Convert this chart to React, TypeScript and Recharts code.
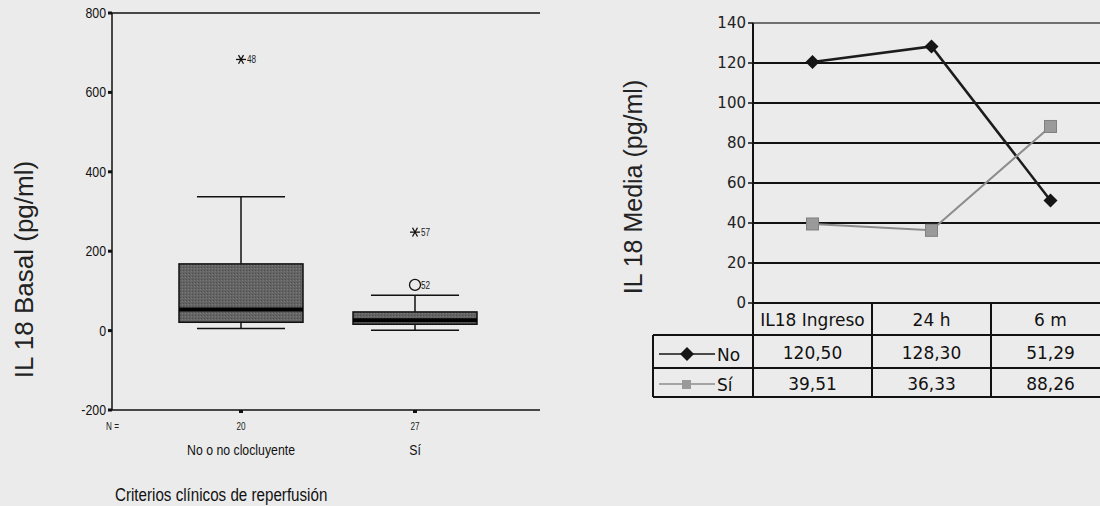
import React from 'react';
import {
  ComposedChart,
  Bar,
  Scatter,
  LineChart,
  Line,
  XAxis,
  YAxis,
  CartesianGrid,
  ReferenceLine,
  Label,
} from 'recharts';

// left panel: IL 18 basal by reperfusion criteria (boxplot)
const groups = ['No o no clocluyente', 'Sí'];
const groupN = [20, 27];
const boxMin = [5, 1];
const boxQ1 = [21, 16];
const boxMedian = [53, 26];
const boxQ3 = [168, 47];
const boxMax = [337, 89];

const outlierGroup = ['No o no clocluyente', 'Sí', 'Sí'];
const outlierValue = [683, 248, 115];
const outlierCase = ['48', '57', '52'];
const outlierKind = ['extreme', 'extreme', 'outlier'];

const basalTicks = [-200, 0, 200, 400, 600, 800];

// right panel: IL 18 mean over time
const timePoints = ['IL18 Ingreso', '24 h', '6 m'];
const seriesNo = [120.5, 128.3, 51.29];
const seriesSi = [39.51, 36.33, 88.26];
const mediaTicks = [0, 20, 40, 60, 80, 100, 120, 140];
const mediaGrid = [20, 40, 60, 80, 100, 120];

const SANS = "'Liberation Sans', Arial, sans-serif";
const VERDANA = "'DejaVu Sans', Verdana, sans-serif";
const INK = '#111';

const boxData = groups.map((name, i) => ({
  name,
  n: groupN[i],
  min: boxMin[i],
  q1: boxQ1[i],
  median: boxMedian[i],
  q3: boxQ3[i],
  max: boxMax[i],
  range: [boxMin[i], boxMax[i]],
}));

const outlierData = outlierGroup.map((name, i) => ({
  name,
  value: outlierValue[i],
  id: outlierCase[i],
  kind: outlierKind[i],
}));

const timeData = timePoints.map((time, i) => ({ time, no: seriesNo[i], si: seriesSi[i] }));

const fmt = (v: number) => v.toFixed(2).replace('.', ',');

// SPSS output uses a narrow sans; squeeze Liberation Sans horizontally
const Narrow = ({ x, y, size, anchor = 'start', fill = INK, squeeze = 0.82, children }: any) => (
  <text
    transform={`translate(${x} ${y}) scale(${squeeze} 1)`}
    textAnchor={anchor}
    fontSize={size}
    fontFamily={SANS}
    fill={fill}
  >
    {children}
  </text>
);

const BoxShape = (props: any) => {
  const { x, y, width, height, payload } = props;
  const top = Math.min(y, y + height);
  const h = Math.abs(height);
  const span = payload.max - payload.min;
  const py = (v: number) => top + (h * (payload.max - v)) / span;
  const cx = x + width / 2;
  const cap = (width * 0.71) / 2;
  const boxTop = py(payload.q3);
  const boxH = py(payload.q1) - boxTop;
  return (
    <g>
      <line x1={cx} x2={cx} y1={py(payload.max)} y2={boxTop} stroke={INK} strokeWidth={1.5} />
      <line x1={cx} x2={cx} y1={py(payload.q1)} y2={py(payload.min)} stroke={INK} strokeWidth={1.5} />
      <line x1={cx - cap} x2={cx + cap} y1={py(payload.max)} y2={py(payload.max)} stroke={INK} strokeWidth={1.5} />
      <line x1={cx - cap} x2={cx + cap} y1={py(payload.min)} y2={py(payload.min)} stroke={INK} strokeWidth={1.5} />
      <rect x={x} y={boxTop} width={width} height={boxH} fill="#646464" />
      <rect x={x} y={boxTop} width={width} height={boxH} fill="url(#stipple)" stroke={INK} strokeWidth={1.5} />
      <line x1={x} x2={x + width} y1={py(payload.median)} y2={py(payload.median)} stroke="#000" strokeWidth={4} />
    </g>
  );
};

const OutlierShape = (props: any) => {
  const { cx, cy, payload } = props;
  const r = 5;
  const d = r * 0.87;
  return (
    <g>
      {payload.kind === 'extreme' ? (
        <g stroke={INK} strokeWidth={1.3}>
          <line x1={cx - r} x2={cx + r} y1={cy} y2={cy} />
          <line x1={cx - r / 2} x2={cx + r / 2} y1={cy - d} y2={cy + d} />
          <line x1={cx + r / 2} x2={cx - r / 2} y1={cy - d} y2={cy + d} />
        </g>
      ) : (
        <circle cx={cx} cy={cy} r={5.5} fill="none" stroke={INK} strokeWidth={1.3} />
      )}
      <Narrow x={cx + 6} y={cy + 4} size={10} fill="#222">
        {payload.id}
      </Narrow>
    </g>
  );
};

const BasalYTick = (props: any) => {
  const { x, y, payload } = props;
  return (
    <Narrow x={x} y={y + 5} size={14} anchor="end" squeeze={0.88}>
      {payload.value}
    </Narrow>
  );
};

const GroupTick = (props: any) => {
  const { x, y, index, payload } = props;
  return (
    <g>
      <Narrow x={x} y={y + 17} size={10} anchor="middle" fill="#222">
        {groupN[index]}
      </Narrow>
      <Narrow x={x} y={y + 42} size={15} anchor="middle">
        {payload.value}
      </Narrow>
    </g>
  );
};

const BasalXTitle = (props: any) => {
  const { viewBox } = props;
  return (
    <g>
      <Narrow x={viewBox.x - 6} y={viewBox.y + 20} size={10} fill="#222">
        N =
      </Narrow>
      <Narrow x={viewBox.x + 3} y={viewBox.y + 91} size={18.5} squeeze={0.82}>
        Criterios clínicos de reperfusión
      </Narrow>
    </g>
  );
};

const BasalYTitle = (props: any) => {
  const { viewBox } = props;
  const tx = viewBox.x - 28;
  const ty = viewBox.y + viewBox.height / 2 + 58;
  return (
    <text x={tx} y={ty} transform={`rotate(-90 ${tx} ${ty})`} textAnchor="middle" dominantBaseline="central" fontSize={26} fontFamily={SANS} fill="#222">
      IL 18 Basal (pg/ml)
    </text>
  );
};

const MediaYTitle = (props: any) => {
  const { viewBox } = props;
  const tx = viewBox.x - 60;
  const ty = viewBox.y + viewBox.height / 2 + 24;
  return (
    <text x={tx} y={ty} transform={`rotate(-90 ${tx} ${ty})`} textAnchor="middle" dominantBaseline="central" fontSize={25} fontFamily={SANS} fill="#222">
      IL 18 Media (pg/ml)
    </text>
  );
};

const DiamondDot = (props: any) => {
  const { cx, cy } = props;
  return <polygon points={`${cx},${cy - 7} ${cx + 7},${cy} ${cx},${cy + 7} ${cx - 7},${cy}`} fill="#151515" />;
};

const SquareDot = (props: any) => {
  const { cx, cy } = props;
  return <rect x={cx - 6} y={cy - 6} width={12} height={12} fill="#9a9a9a" stroke="#808080" strokeWidth={1} />;
};

// x axis ticks of the right panel draw the data table under the plot
const TableTick = (props: any) => {
  const { x, y, index, payload, width, visibleTicksCount } = props;
  const band = width / visibleTicksCount;
  const l = x - band / 2;
  const r = x + band / 2;
  const rows = [y + 32, y + 65, y + 94];
  const txt = { fontSize: 17, fontFamily: VERDANA, fill: INK, textAnchor: 'middle' as const };
  const legendL = l - 100;
  return (
    <g>
      <line x1={r} x2={r} y1={y} y2={rows[2]} stroke={INK} strokeWidth={2} />
      {index === 0 && <line x1={l} x2={l} y1={y} y2={rows[2]} stroke={INK} strokeWidth={2} />}
      {rows.map((ry) => (
        <line key={ry} x1={l} x2={r} y1={ry} y2={ry} stroke={INK} strokeWidth={2} />
      ))}
      <text x={x} y={y + 23} {...txt}>{payload.value}</text>
      <text x={x} y={y + 56} {...txt}>{fmt(seriesNo[index])}</text>
      <text x={x} y={y + 87} {...txt}>{fmt(seriesSi[index])}</text>
      {index === 0 && (
        <g>
          <line x1={legendL} x2={legendL} y1={rows[0]} y2={rows[2]} stroke={INK} strokeWidth={2} />
          <line x1={legendL} x2={l} y1={rows[0]} y2={rows[0]} stroke={INK} strokeWidth={2} />
          <line x1={legendL} x2={l} y1={rows[1]} y2={rows[1]} stroke={INK} strokeWidth={2} />
          <line x1={legendL} x2={l} y1={rows[2]} y2={rows[2]} stroke={INK} strokeWidth={2} />
          <line x1={legendL + 6} x2={legendL + 62} y1={y + 51} y2={y + 51} stroke="#151515" strokeWidth={1.5} />
          <DiamondDot cx={legendL + 34} cy={y + 51} />
          <text x={legendL + 64} y={y + 58} fontSize={17} fontFamily={VERDANA} fill={INK}>No</text>
          <line x1={legendL + 6} x2={legendL + 62} y1={y + 81} y2={y + 81} stroke="#8c8c8c" strokeWidth={1.5} />
          <rect x={legendL + 29} y={y + 77} width={9} height={9} fill="#9a9a9a" />
          <text x={legendL + 64} y={y + 88} fontSize={17} fontFamily={VERDANA} fill={INK}>Sí</text>
        </g>
      )}
    </g>
  );
};

const App: React.FC = () => {
  return (
    <div style={{ position: 'fixed', left: 0, top: 0, width: 1100, height: 506, background: '#ebebeb', overflow: 'hidden' }}>
      <div style={{ position: 'absolute', left: 0, top: 0 }}>
        <ComposedChart width={560} height={506} data={boxData} margin={{ top: 13, right: 20, left: 52, bottom: 66 }}>
          <defs>
            <pattern id="stipple" width={3} height={3} patternUnits="userSpaceOnUse">
              <rect width={1} height={1} fill="#4e4e4e" />
              <rect x={2} y={1} width={1} height={1} fill="#7a7a7a" />
            </pattern>
          </defs>
          <XAxis
            dataKey="name"
            type="category"
            allowDuplicatedCategory={false}
            padding={{ left: 42, right: 38 }}
            height={30}
            interval={0}
            tickSize={3}
            tickMargin={0}
            axisLine={{ stroke: INK, strokeWidth: 1.5 }}
            tickLine={{ stroke: INK, strokeWidth: 4 }}
            tick={<GroupTick />}
          >
            <Label content={<BasalXTitle />} />
          </XAxis>
          <YAxis
            domain={[-200, 800]}
            ticks={basalTicks}
            width={60}
            tickSize={4}
            tickMargin={2}
            axisLine={{ stroke: INK, strokeWidth: 1.5 }}
            tickLine={{ stroke: INK, strokeWidth: 3 }}
            tick={<BasalYTick />}
            allowDataOverflow
          >
            <Label content={<BasalYTitle />} />
          </YAxis>
          <YAxis
            yAxisId="frame"
            orientation="right"
            domain={[-200, 800]}
            width={0}
            tick={false}
            tickLine={false}
            axisLine={{ stroke: INK, strokeWidth: 1.5 }}
          />
          <ReferenceLine y={800} stroke={INK} strokeWidth={1.5} />
          <Bar dataKey="range" barSize={124} shape={<BoxShape />} isAnimationActive={false} />
          <Scatter data={outlierData} dataKey="value" shape={<OutlierShape />} isAnimationActive={false} />
        </ComposedChart>
      </div>
      <div style={{ position: 'absolute', left: 560, top: 0 }}>
        <LineChart width={560} height={410} data={timeData} margin={{ top: 23, right: 10, left: 133, bottom: 7 }}>
          <CartesianGrid vertical={false} horizontalValues={mediaGrid} stroke={INK} strokeWidth={2} />
          <ReferenceLine y={140} stroke="#707070" strokeWidth={2} />
          <XAxis
            dataKey="time"
            scale="band"
            height={100}
            interval={0}
            tickSize={0}
            tickMargin={0}
            tickLine={false}
            axisLine={{ stroke: INK, strokeWidth: 2 }}
            tick={<TableTick />}
          />
          <YAxis
            domain={[0, 140]}
            ticks={mediaTicks}
            width={60}
            tickSize={5}
            tickMargin={2}
            axisLine={{ stroke: INK, strokeWidth: 2 }}
            tickLine={{ stroke: INK, strokeWidth: 1.5 }}
            tick={{ fontSize: 15, fill: '#222', fontFamily: VERDANA }}
          >
            <Label content={<MediaYTitle />} />
          </YAxis>
          <Line type="linear" dataKey="no" name="No" stroke="#1c1c1c" strokeWidth={2.5} dot={<DiamondDot />} isAnimationActive={false} />
          <Line type="linear" dataKey="si" name="Sí" stroke="#8c8c8c" strokeWidth={2} dot={<SquareDot />} isAnimationActive={false} />
        </LineChart>
      </div>
    </div>
  );
};

export default App;
